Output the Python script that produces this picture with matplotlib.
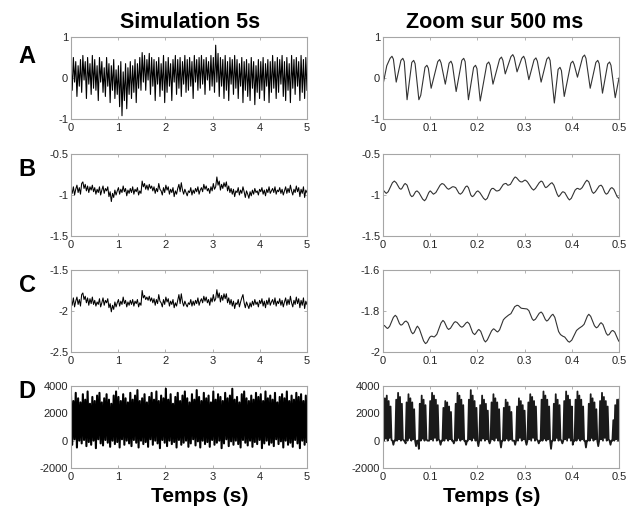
import numpy as np
import matplotlib
matplotlib.use("Agg")
import matplotlib.pyplot as plt
from matplotlib.ticker import FormatStrFormatter

plt.rcParams["font.family"] = ["Liberation Sans", "DejaVu Sans"]

# --- 5 s simulations (uniform sampling over 0..5 s) ---
a_long = [
    0.35, -0.30, 0.50, -0.10, 0.40, -0.45, 0.30, -0.20, 0.45, -0.35,
    0.55, -0.05, 0.40, -0.50, 0.50, -0.15, 0.35, -0.40, 0.55, -0.25,
    0.45, -0.30, 0.30, -0.55, 0.50, -0.10, 0.40, -0.35, 0.25, -0.45,
    0.50, -0.20, 0.35, -0.60, 0.30, -0.30, 0.45, -0.50, 0.20, -0.40,
    0.30, -0.70, 0.40, -0.92, 0.15, -0.55, 0.35, -0.75, 0.25, -0.40,
    0.40, -0.50, 0.30, -0.35, 0.45, -0.60, 0.35, -0.25, 0.50, -0.30,
    0.62, -0.10, 0.55, -0.30, 0.45, -0.05, 0.60, -0.40, 0.50, -0.20,
    0.45, -0.55, 0.40, -0.15, 0.50, -0.45, 0.35, -0.30, 0.55, -0.60,
    0.40, -0.35, 0.50, -0.20, 0.35, -0.55, 0.45, -0.10, 0.55, -0.40,
    0.45, -0.25, 0.50, -0.45, 0.40, -0.15, 0.55, -0.35, 0.45, -0.30,
    0.50, -0.20, 0.40, -0.50, 0.55, -0.10, 0.45, -0.30, 0.50, -0.25,
    0.55, -0.15, 0.45, -0.40, 0.50, -0.05, 0.40, -0.30, 0.55, -0.20,
    0.50, -0.35, 0.80, -0.10, 0.60, -0.45, 0.50, -0.20, 0.45, -0.50,
    0.55, -0.30, 0.40, -0.55, 0.50, -0.15, 0.45, -0.40, 0.55, -0.25,
    0.45, -0.50, 0.35, -0.20, 0.50, -0.60, 0.40, -0.30, 0.45, -0.45,
    0.35, -0.55, 0.50, -0.25, 0.40, -0.65, 0.30, -0.35, 0.45, -0.50,
    0.40, -0.30, 0.50, -0.55, 0.35, -0.20, 0.45, -0.60, 0.40, -0.35,
    0.55, -0.25, 0.40, -0.50, 0.50, -0.35, 0.45, -0.15, 0.55, -0.45,
    0.40, -0.55, 0.50, -0.30, 0.35, -0.60, 0.55, -0.25, 0.45, -0.40,
    0.50, -0.20, 0.40, -0.55, 0.55, -0.35, 0.45, -0.50, 0.50, -0.30,
]

b_long = [
    -0.92, -0.98, -0.90, -1.00, -0.93, -0.88, -0.97, -0.91, -0.99, -0.86,
    -0.84, -0.92, -0.87, -0.95, -0.89, -0.97, -0.90, -0.94, -0.88, -0.96,
    -0.91, -0.99, -0.93, -0.97, -0.90, -1.00, -0.94, -0.89, -0.98, -0.92,
    -0.95, -0.90, -1.02, -0.96, -1.08, -0.98, -1.03, -0.94, -1.00, -0.95,
    -0.91, -0.99, -0.93, -0.97, -0.89, -0.96, -0.92, -1.01, -0.94, -0.98,
    -0.92, -0.97, -0.90, -0.99, -0.93, -0.96, -0.91, -1.00, -0.95, -0.98,
    -0.83, -0.90, -0.86, -0.93, -0.88, -0.94, -0.87, -0.92, -0.89, -0.95,
    -0.90, -0.98, -0.92, -0.96, -0.86, -0.93, -0.95, -1.00, -0.91, -0.97,
    -0.88, -0.94, -0.90, -0.99, -0.93, -0.97, -0.91, -1.02, -0.95, -0.99,
    -0.92, -0.87, -0.96, -0.85, -0.94, -0.99, -0.93, -0.97, -1.01, -0.95,
    -0.97, -0.91, -1.00, -0.94, -0.98, -0.92, -0.96, -0.90, -0.99, -0.94,
    -0.91, -0.96, -0.87, -0.93, -0.89, -0.95, -0.92, -0.98, -0.90, -0.95,
    -0.86, -0.93, -0.90, -0.78, -0.88, -0.83, -0.94, -0.87, -0.92, -0.85,
    -0.90, -0.84, -0.95, -0.89, -0.97, -0.92, -0.99, -0.93, -1.02, -0.95,
    -0.97, -0.91, -1.00, -0.94, -0.98, -0.90, -0.96, -1.03, -0.95, -0.99,
    -1.04, -0.96, -1.01, -0.94, -0.99, -0.92, -0.97, -0.95, -1.00, -0.93,
    -0.96, -0.91, -0.99, -0.94, -1.01, -0.93, -0.97, -0.90, -0.98, -0.95,
    -0.92, -0.97, -0.90, -0.99, -0.94, -0.96, -0.91, -0.98, -0.93, -1.00,
    -0.95, -0.90, -0.98, -0.92, -0.97, -0.88, -0.95, -1.00, -0.93, -0.97,
    -0.89, -0.96, -0.91, -1.02, -0.93, -0.98, -0.90, -1.03, -0.94, -0.97,
]

c_long = [
    -1.85, -1.93, -1.84, -1.95, -1.88, -1.83, -1.92, -1.86, -1.94, -1.80,
    -1.78, -1.86, -1.82, -1.90, -1.84, -1.93, -1.85, -1.91, -1.83, -1.92,
    -1.87, -1.94, -1.89, -1.92, -1.85, -1.95, -1.90, -1.84, -1.93, -1.87,
    -1.90, -1.85, -1.96, -1.91, -2.01, -1.93, -1.98, -1.89, -1.95, -1.90,
    -1.86, -1.94, -1.88, -1.92, -1.83, -1.91, -1.87, -1.95, -1.89, -1.93,
    -1.87, -1.92, -1.86, -1.94, -1.88, -1.91, -1.86, -1.95, -1.90, -1.93,
    -1.75, -1.84, -1.81, -1.86, -1.83, -1.87, -1.82, -1.88, -1.84, -1.90,
    -1.85, -1.93, -1.86, -1.91, -1.80, -1.88, -1.90, -1.95, -1.86, -1.92,
    -1.83, -1.89, -1.85, -1.94, -1.88, -1.92, -1.86, -1.96, -1.90, -1.94,
    -1.87, -1.80, -1.91, -1.79, -1.89, -1.94, -1.88, -1.92, -1.95, -1.90,
    -1.92, -1.86, -1.94, -1.88, -1.93, -1.87, -1.91, -1.84, -1.93, -1.88,
    -1.85, -1.90, -1.82, -1.88, -1.83, -1.90, -1.86, -1.93, -1.84, -1.89,
    -1.80, -1.88, -1.85, -1.74, -1.84, -1.78, -1.89, -1.81, -1.87, -1.79,
    -1.85, -1.79, -1.90, -1.84, -1.92, -1.86, -1.94, -1.88, -1.97, -1.90,
    -1.92, -1.86, -1.95, -1.89, -1.84, -1.80, -1.90, -1.96, -1.89, -1.93,
    -1.97, -1.90, -1.95, -1.88, -1.93, -1.86, -1.92, -1.89, -1.95, -1.87,
    -1.91, -1.85, -1.94, -1.88, -1.96, -1.87, -1.92, -1.84, -1.93, -1.89,
    -1.86, -1.92, -1.84, -1.94, -1.88, -1.91, -1.85, -1.93, -1.87, -1.95,
    -1.89, -1.84, -1.93, -1.86, -1.92, -1.82, -1.90, -1.95, -1.87, -1.92,
    -1.83, -1.91, -1.85, -1.96, -1.87, -1.93, -1.84, -1.97, -1.88, -1.92,
]

d_long = [
    3300, -300, 2900, 100, 3500, -500, 3100, 0, 2800, -200,
    3400, 50, 3000, -400, 3600, -100, 2700, -300, 3200, 0,
    2900, -550, 3300, 100, 3500, -200, 2800, -350, 3100, 50,
    3400, -150, 3000, -450, 2700, 0, 3300, -250, 3600, -100,
    3200, -500, 2900, 100, 3400, -300, 3100, 0, 2800, -200,
    3500, -400, 3000, 50, 3300, -150, 3700, -500, 2900, 0,
    3100, -250, 3400, -100, 2800, -450, 3200, 100, 3500, -300,
    3000, 0, 3600, -200, 2900, -550, 3300, 50, 3100, -150,
    3800, -400, 3000, 0, 3400, -250, 2700, -100, 3200, -500,
    3500, 50, 2900, -300, 3300, -150, 3600, 0, 3100, -450,
    2800, -200, 3400, 100, 3000, -350, 3700, -50, 3200, -500,
    2900, 0, 3500, -250, 3100, -100, 3300, -450, 2800, 50,
    3600, -300, 3000, -150, 3400, 0, 3200, -550, 2900, -200,
    3500, 100, 3100, -400, 3300, -50, 3800, -300, 3000, 0,
    3200, -250, 2800, -500, 3400, 50, 3600, -150, 3100, -350,
    2900, 0, 3300, -450, 3000, -100, 3500, -250, 3200, 50,
    3400, -550, 2900, -200, 3600, 0, 3100, -300, 3300, -150,
    3000, -400, 3500, 100, 2800, -250, 3200, -50, 3400, -500,
    3100, 0, 3600, -300, 2900, -150, 3300, -450, 3000, 50,
    3500, -200, 3200, -550, 3400, 0, 2900, -300, 3300, -100,
]

# --- 500 ms zooms: (time s, value) ---
a_zoom = [
    (0.000, -0.16), (0.008, 0.30), (0.015, 0.48), (0.019, 0.53), (0.022, 0.46),
    (0.028, -0.10), (0.038, 0.43), (0.042, 0.48), (0.045, 0.40), (0.051, -0.53),
    (0.061, 0.38), (0.065, 0.43), (0.068, 0.35), (0.076, -0.53), (0.080, -0.42),
    (0.089, 0.26), (0.093, 0.31), (0.096, 0.24), (0.102, -0.25), (0.116, 0.40),
    (0.120, 0.45), (0.123, 0.37), (0.132, -0.15), (0.140, 0.36), (0.144, 0.41),
    (0.147, 0.33), (0.155, -0.33), (0.167, 0.43), (0.171, 0.48), (0.174, 0.40),
    (0.181, -0.53), (0.192, 0.26), (0.196, 0.31), (0.199, 0.23), (0.206, -0.56),
    (0.220, 0.34), (0.224, 0.39), (0.227, 0.31), (0.233, -0.15), (0.247, 0.46),
    (0.251, 0.51), (0.254, 0.43), (0.259, 0.10), (0.271, 0.52), (0.275, 0.57),
    (0.278, 0.50), (0.284, 0.15), (0.294, 0.48), (0.298, 0.53), (0.301, 0.45),
    (0.309, -0.04), (0.320, 0.44), (0.324, 0.49), (0.327, 0.41), (0.335, -0.10),
    (0.347, 0.46), (0.351, 0.51), (0.354, 0.43), (0.363, -0.61), (0.371, 0.21),
    (0.375, 0.26), (0.378, 0.18), (0.384, -0.45), (0.398, 0.36), (0.402, 0.41),
    (0.405, 0.33), (0.412, 0.02), (0.423, 0.51), (0.427, 0.56), (0.430, 0.48),
    (0.439, -0.25), (0.451, 0.38), (0.455, 0.43), (0.458, 0.35), (0.465, -0.37),
    (0.476, 0.34), (0.480, 0.39), (0.483, 0.31), (0.492, -0.48), (0.500, 0.00),
]

b_zoom = [
    (0.000, -0.94), (0.002, -0.95), (0.005, -0.97), (0.007, -0.98), (0.011, -0.96),
    (0.020, -0.85), (0.024, -0.83), (0.028, -0.85), (0.035, -0.92), (0.038, -0.93),
    (0.040, -0.92), (0.045, -0.87), (0.047, -0.86), (0.051, -0.88), (0.058, -1.00),
    (0.061, -1.02), (0.064, -1.01), (0.069, -0.96), (0.072, -0.95), (0.076, -0.97),
    (0.084, -1.05), (0.088, -1.07), (0.091, -1.05), (0.097, -0.97), (0.100, -0.95),
    (0.102, -0.96), (0.105, -0.98), (0.107, -0.99), (0.112, -0.97), (0.121, -0.88),
    (0.125, -0.86), (0.129, -0.87), (0.136, -0.92), (0.139, -0.93), (0.142, -0.92),
    (0.147, -0.90), (0.150, -0.90), (0.154, -0.91), (0.161, -0.98), (0.164, -0.99),
    (0.168, -0.97), (0.175, -0.90), (0.178, -0.89), (0.181, -0.91), (0.186, -1.00),
    (0.189, -1.02), (0.192, -1.01), (0.198, -0.96), (0.201, -0.95), (0.205, -0.97),
    (0.213, -1.04), (0.217, -1.06), (0.221, -1.04), (0.228, -0.94), (0.231, -0.92),
    (0.234, -0.92), (0.240, -0.95), (0.243, -0.95), (0.247, -0.94), (0.255, -0.87),
    (0.259, -0.86), (0.261, -0.86), (0.264, -0.88), (0.266, -0.88), (0.270, -0.87),
    (0.277, -0.80), (0.280, -0.78), (0.283, -0.79), (0.289, -0.83), (0.292, -0.84),
    (0.295, -0.84), (0.300, -0.82), (0.302, -0.82), (0.306, -0.84), (0.315, -0.92),
    (0.319, -0.94), (0.323, -0.92), (0.331, -0.85), (0.335, -0.83), (0.338, -0.84),
    (0.343, -0.90), (0.345, -0.91), (0.348, -0.90), (0.355, -0.86), (0.358, -0.85),
    (0.362, -0.88), (0.369, -0.99), (0.372, -1.02), (0.374, -1.01), (0.379, -0.97),
    (0.381, -0.96), (0.385, -0.97), (0.392, -1.04), (0.395, -1.06), (0.399, -1.04),
    (0.407, -0.94), (0.411, -0.92), (0.413, -0.92), (0.416, -0.93), (0.418, -0.93),
    (0.422, -0.91), (0.429, -0.84), (0.432, -0.82), (0.436, -0.84), (0.443, -0.96),
    (0.446, -0.98), (0.450, -0.96), (0.458, -0.89), (0.462, -0.88), (0.465, -0.90),
    (0.470, -0.97), (0.473, -0.99), (0.476, -0.98), (0.482, -0.92), (0.485, -0.91),
    (0.489, -0.93), (0.496, -1.02), (0.500, -1.04),
]

c_zoom = [
    (0.000, -1.869), (0.003, -1.871), (0.008, -1.883), (0.010, -1.885), (0.014, -1.875),
    (0.022, -1.831), (0.026, -1.821), (0.029, -1.828), (0.035, -1.862), (0.038, -1.869),
    (0.041, -1.866), (0.046, -1.852), (0.049, -1.849), (0.053, -1.858), (0.060, -1.902),
    (0.063, -1.911), (0.066, -1.905), (0.071, -1.880), (0.073, -1.874), (0.077, -1.887),
    (0.086, -1.946), (0.090, -1.959), (0.093, -1.954), (0.099, -1.928), (0.102, -1.923),
    (0.104, -1.923), (0.107, -1.926), (0.109, -1.926), (0.114, -1.914), (0.123, -1.858),
    (0.127, -1.846), (0.130, -1.853), (0.136, -1.883), (0.139, -1.890), (0.143, -1.884),
    (0.150, -1.858), (0.153, -1.852), (0.157, -1.856), (0.164, -1.875), (0.167, -1.879),
    (0.170, -1.875), (0.176, -1.858), (0.179, -1.854), (0.183, -1.863), (0.190, -1.906),
    (0.194, -1.915), (0.196, -1.911), (0.201, -1.894), (0.203, -1.890), (0.207, -1.899),
    (0.214, -1.942), (0.217, -1.951), (0.221, -1.941), (0.230, -1.897), (0.234, -1.887),
    (0.236, -1.889), (0.241, -1.900), (0.243, -1.902), (0.247, -1.892), (0.255, -1.843),
    (0.259, -1.833), (0.266, -1.820), (0.271, -1.813), (0.279, -1.779), (0.284, -1.772),
    (0.287, -1.774), (0.292, -1.785), (0.294, -1.787), (0.305, -1.790), (0.309, -1.798),
    (0.316, -1.838), (0.319, -1.846), (0.323, -1.840), (0.331, -1.811), (0.335, -1.805),
    (0.338, -1.812), (0.344, -1.842), (0.347, -1.849), (0.350, -1.844), (0.357, -1.821),
    (0.360, -1.816), (0.364, -1.831), (0.372, -1.900), (0.376, -1.915), (0.381, -1.923),
    (0.385, -1.927), (0.392, -1.948), (0.395, -1.952), (0.400, -1.942), (0.410, -1.895),
    (0.415, -1.885), (0.422, -1.874), (0.426, -1.865), (0.433, -1.825), (0.436, -1.816),
    (0.440, -1.826), (0.448, -1.872), (0.452, -1.882), (0.455, -1.878), (0.460, -1.861),
    (0.462, -1.857), (0.466, -1.866), (0.473, -1.909), (0.476, -1.918), (0.479, -1.915),
    (0.484, -1.898), (0.487, -1.895), (0.491, -1.903), (0.498, -1.940), (0.500, -1.948),
]

# bursts of spikes, sampled every 2 ms
d_zoom = [
    2600, 0, 3100, 150, 3300, 0, 2900, 200, 2500, 50, 0, -300, 0, 0,
    3000, 0, 3500, 100, 3200, 0, 2700, 100, 0, 0, -200,
    2800, 0, 3400, 200, 3100, 0, 2800, 100, 2300, 0, -400, 0, 0,
    -600, 2700, 0, 3300, 150, 3000, 0, 2600, 100, 0, 0, 0,
    2900, 100, 3500, 0, 3300, 200, 3000, 0, 2600, 100, 0, -300, 0, 0,
    2400, 0, 2900, 150, 2800, 0, 2500, 100, 2100, 0, 0, -200, 0,
    2700, 0, 3500, 200, 3300, 0, 3000, 100, 2600, 0, 0, -300, 0, 0,
    3000, 100, 3700, 0, 3300, 200, 2900, 0, 2400, 0, -400, 0,
    2600, 0, 3300, 150, 3000, 0, 2700, 100, 2200, 0, -200, 0,
    2800, 100, 3400, 0, 3100, 200, 2800, 0, 2300, 0, -500, 0, 0,
    2400, 0, 3000, 150, 2800, 0, 2500, 100, 2100, 0, 0, 0, -300, 0,
    2500, 0, 3100, 200, 2900, 0, 2600, 100, 2200, 0, -300, 0,
    2800, 100, 3400, 0, 3200, 200, 2900, 0, 2500, 100, 0, -200, 0, 0,
    3000, 0, 3600, 150, 3300, 0, 3000, 100, 2500, 0, -600, 0, 0,
    2700, 0, 3400, 200, 3000, 0, 2600, 100, 0, -200, 0,
    2900, 100, 3600, 0, 3300, 200, 3000, 0, 2500, -300, 0, 0,
    3000, 0, 3600, 150, 3300, 0, 3000, 100, 2500, 0, 0, -500, 0, 0,
    2700, 0, 3400, 200, 3100, 0, 2800, 100, 2300, 0, -400, 0,
    2900, 100, 3500, 0, 3200, 200, 2900, 0, 2500, 100, 0, -300, 0, 0,
    1500, 0, 2600, 100, 3000, 0, 3000,
]

row_letters = ["A", "B", "C", "D"]
left_ylims = [(-1, 1), (-1.5, -0.5), (-2.5, -1.5), (-2000, 4000)]
left_yticks = [[-1, 0, 1], [-1.5, -1, -0.5], [-2.5, -2, -1.5], [-2000, 0, 2000, 4000]]
right_ylims = [(-1, 1), (-1.5, -0.5), (-2, -1.6), (-2000, 4000)]
right_yticks = [[-1, 0, 1], [-1.5, -1, -0.5], [-2, -1.8, -1.6], [-2000, 0, 2000, 4000]]

W, H = 637, 514
fig = plt.figure(figsize=(W / 100, H / 100), dpi=100)

frame_col = "#a6a6a6"
text_col = "#262626"


def style_axes(ax, xlim, xticks, ylim, yticks):
    ax.set_xlim(*xlim)
    ax.set_ylim(*ylim)
    ax.set_xticks(xticks)
    ax.set_yticks(yticks)
    ax.xaxis.set_major_formatter(FormatStrFormatter("%g"))
    ax.yaxis.set_major_formatter(FormatStrFormatter("%g"))
    ax.tick_params(direction="in", length=2.5, width=0.6, color=frame_col,
                   labelsize=8, labelcolor=text_col, top=True, right=True)
    ax.tick_params(axis="x", pad=3)
    ax.tick_params(axis="y", pad=2)
    for s in ax.spines.values():
        s.set_color(frame_col)
        s.set_linewidth(0.8)


rows_px = [(37, 119), (154, 236), (270, 352), (386, 468)]
letter_y = [56, 170, 286, 392]
left_x = (71, 307)
right_x = (383, 619)

long_sets = [a_long, b_long, c_long, d_long]
long_lw = [0.8, 0.75, 0.75, 1.5]
zoom_sets = [a_zoom, b_zoom, c_zoom, None]

for i, (top, bot) in enumerate(rows_px):
    hgt = (bot - top) / H
    y0 = 1 - bot / H

    axl = fig.add_axes([left_x[0] / W, y0, (left_x[1] - left_x[0]) / W, hgt])
    vals = np.array(long_sets[i])
    t = np.linspace(0, 5, len(vals))
    axl.plot(t, vals, color="black", linewidth=long_lw[i])
    style_axes(axl, (0, 5), [0, 1, 2, 3, 4, 5], left_ylims[i], left_yticks[i])

    axr = fig.add_axes([right_x[0] / W, y0, (right_x[1] - right_x[0]) / W, hgt])
    if zoom_sets[i] is not None:
        zt, zv = zip(*zoom_sets[i])
        axr.plot(zt, zv, color="#333333", linewidth=0.8)
    else:
        zv = np.array(d_zoom)
        zt = np.linspace(0, 0.5, len(zv))
        axr.plot(zt, zv, color="#1a1a1a", linewidth=1.3)
    style_axes(axr, (0, 0.5), [0, 0.1, 0.2, 0.3, 0.4, 0.5], right_ylims[i], right_yticks[i])

    fig.text(27 / W, 1 - letter_y[i] / H, row_letters[i], fontsize=17,
             fontweight="bold", ha="center", va="center")

fig.text(190 / W, 1 - 22 / H, "Simulation 5s", fontsize=15.5, fontweight="bold",
         ha="center", va="center")
fig.text(495 / W, 1 - 22 / H, "Zoom sur 500 ms", fontsize=15.5, fontweight="bold",
         ha="center", va="center")
fig.text(200 / W, 1 - 496 / H, "Temps (s)", fontsize=15, fontweight="bold",
         ha="center", va="center")
fig.text(492 / W, 1 - 496 / H, "Temps (s)", fontsize=15, fontweight="bold",
         ha="center", va="center")

fig.savefig("out.png", dpi=100)
